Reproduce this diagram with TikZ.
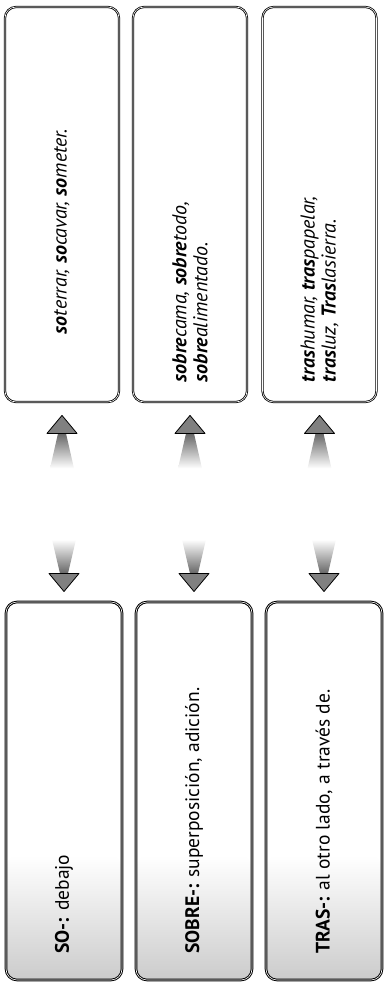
\documentclass[tikz,border=0pt]{standalone}
\usepackage{fontspec}
\setmainfont{PT Sans}
\usetikzlibrary{calc}
\pgfdeclarelayer{background}
\pgfsetlayers{background,main}

% text set sideways, read from bottom to top
\newcommand{\sidetext}[2]{\rotatebox{90}{\parbox{#1}{\raggedright #2}}}

% tapered arrow: #1 fade style, #2 tail, #3 tip
\newcommand{\fadearrow}[3]{%
  \coordinate (fa-neck) at ($(#3)!18pt!(#2)$);
  \shade[#1] ($(#2)!12pt!90:(#3)$) -- ($(fa-neck)!4pt!90:(#3)$) -- ($(fa-neck)!4pt!-90:(#3)$) -- ($(#2)!12pt!-90:(#3)$) -- cycle;
  \filldraw[headtip] ($(fa-neck)!15pt!90:(#3)$) -- (#3) -- ($(fa-neck)!15pt!-90:(#3)$) -- cycle;
}

\tikzset{
  wordbox/.style={draw=black, line width=0.8pt, double=white, double distance=0.6pt,
    rounded corners=11pt, minimum width=114pt, minimum height=395pt, inner sep=0pt,
    font=\fontsize{20}{21}\selectfont\itshape},
  rootbox/.style={wordbox, minimum width=116pt, minimum height=378pt, line width=1pt,
    font=\fontsize{19.5}{22}\selectfont},
  rootfoot/.style={top color=white, bottom color=black!20, rounded corners=10pt},
  upfade/.style={top color=black!60, bottom color=white},
  downfade/.style={top color=white, bottom color=black!60},
  headtip/.style={fill=black!50, draw=black, line width=0.8pt, line join=round},
}

\begin{document}
\begin{tikzpicture}[x=1pt, y=-1pt]
  \useasboundingbox (0,0) rectangle (387,995);

  % examples
  \node[wordbox] (soex) at (62,204.5)
    {\sidetext{355pt}{\hspace*{48pt}\textbf{so}terrar, \textbf{so}cavar, \textbf{so}meter.}};
  \node[wordbox] (sobreex) at (190,204.5)
    {\sidetext{355pt}{\textbf{sobre}cama, \textbf{sobre}todo,\\ \textbf{sobre}alimentado.}};
  \node[wordbox] (trasex) at (319.5,204.5)
    {\sidetext{355pt}{\textbf{tras}humar, \textbf{tras}papelar,\\ \textbf{tras}luz, \textbf{Tras}lasierra.}};

  % prefixes
  \node[rootbox] (so) at (64,791) {\sidetext{325pt}{\textbf{SO-:} debajo}};
  \node[rootbox] (sobre) at (194,791) {\sidetext{325pt}{\textbf{SOBRE-:} superposición, adición.}};
  \node[rootbox] (tras) at (324,791) {\sidetext{325pt}{\textbf{TRAS-:} al otro lado, a través de.}};

  \begin{pgfonlayer}{background}
    \foreach \p in {so, sobre, tras}
      \shade[rootfoot] ([shift={(1.6pt,1.6pt)}]\p.south west) rectangle ([shift={(-1.6pt,125pt)}]\p.south east);
  \end{pgfonlayer}

  \foreach \p in {so, sobre, tras} {
    \coordinate (\p-up) at ([yshift=-66pt]\p ex.south);
    \coordinate (\p-uptip) at ([yshift=-13pt]\p ex.south);
    \coordinate (\p-down) at ([yshift=62pt]\p.north);
    \coordinate (\p-downtip) at ([yshift=10pt]\p.north);
  }

  \fadearrow{upfade}{so-up}{so-uptip}
  \fadearrow{upfade}{sobre-up}{sobre-uptip}
  \fadearrow{upfade}{tras-up}{tras-uptip}
  \fadearrow{downfade}{so-down}{so-downtip}
  \fadearrow{downfade}{sobre-down}{sobre-downtip}
  \fadearrow{downfade}{tras-down}{tras-downtip}
\end{tikzpicture}
\end{document}
